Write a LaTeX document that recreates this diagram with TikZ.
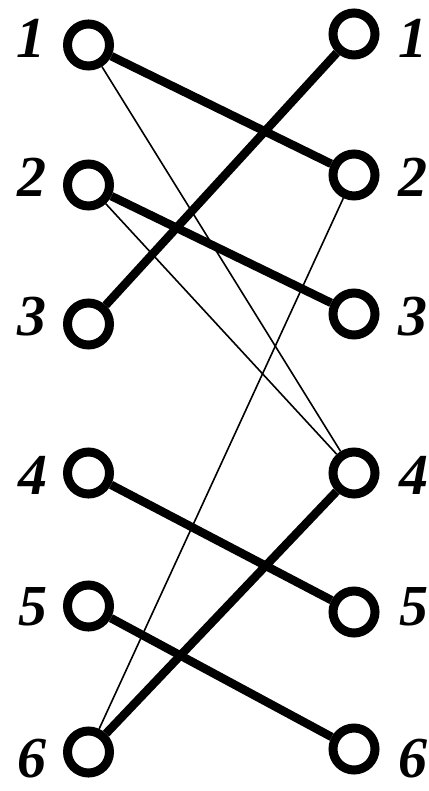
\documentclass[tikz,border=0pt]{standalone}
\usepackage{fontspec}
\setmainfont{Liberation Serif}
\begin{document}
\begin{tikzpicture}[x=1pt,y=-1pt,
  vert/.style={circle,draw=black,fill=white,line width=9pt,minimum size=42pt,inner sep=0pt},
  lab/.style={inner sep=0pt,anchor=base,font=\fontsize{58}{58}\selectfont\bfseries\itshape},
  heavy/.style={line width=8.5pt},
  light/.style={line width=1.6pt}]
\useasboundingbox (0,0) rectangle (428,791);
% left vertices
\node[vert] (L1) at (88.5,45) {};
\node[vert] (L2) at (88.5,185) {};
\node[vert] (L3) at (88.5,324) {};
\node[vert] (L4) at (88.5,473) {};
\node[vert] (L5) at (88.5,606) {};
\node[vert] (L6) at (88.5,752) {};
% right vertices
\node[vert] (R1) at (354,34) {};
\node[vert] (R2) at (354,175) {};
\node[vert] (R3) at (354,314) {};
\node[vert] (R4) at (354,473) {};
\node[vert] (R5) at (354,612) {};
\node[vert] (R6) at (354,749) {};
% edges
\draw[light] (L1) -- (R4);
\draw[light] (L2) -- (R4);
\draw[light] (L6) -- (R2);
\draw[heavy] (L1) -- (R2);
\draw[heavy] (L3) -- (R1);
\draw[heavy] (L2) -- (R3);
\draw[heavy] (L4) -- (R5);
\draw[heavy] (L6) -- (R4);
\draw[heavy] (L5) -- (R6);
% labels
\node[lab] (l1) at (31,58) {1};
\node[lab] (l2) at (32,197) {2};
\node[lab] (l3) at (32,335) {3};
\node[lab] (l4) at (33,494) {4};
\node[lab] (l5) at (33,625) {5};
\node[lab] (l6) at (32,777) {6};
\node[lab] (r1) at (413,58) {1};
\node[lab] (r2) at (413,197) {2};
\node[lab] (r3) at (413,335) {3};
\node[lab] (r4) at (414,494) {4};
\node[lab] (r5) at (414,625) {5};
\node[lab] (r6) at (413,777) {6};
\end{tikzpicture}
\end{document}
